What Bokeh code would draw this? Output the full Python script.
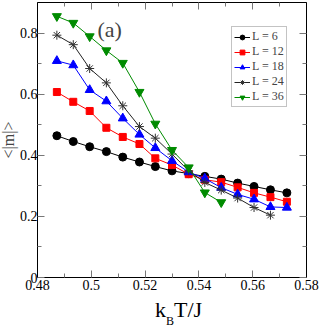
from bokeh.plotting import figure
from bokeh.models import FixedTicker, LinearAxis, Label, Legend, LegendItem, Range1d, Div
from bokeh.layouts import column
from bokeh.embed import file_html
from bokeh.resources import INLINE

T = [0.4872, 0.4933, 0.4994, 0.5056, 0.5117, 0.5179, 0.5238, 0.5300,
     0.5362, 0.5422, 0.5483, 0.5544, 0.5605, 0.5666, 0.5727]
m_L6 = [0.464, 0.445, 0.428, 0.412, 0.394, 0.378, 0.363, 0.349, 0.340,
        0.331, 0.322, 0.309, 0.298, 0.287, 0.277]
m_L12 = [0.607, 0.575, 0.545, 0.490, 0.460, 0.437, 0.390, 0.368, 0.338,
         0.320, 0.312, 0.295, 0.277, 0.263, 0.248]
m_L18 = [0.709, 0.695, 0.614, 0.577, 0.521, 0.468, 0.424, 0.382, 0.345,
         0.324, 0.294, 0.272, 0.256, 0.231, 0.229]
m_L24 = [0.793, 0.762, 0.684, 0.637, 0.562, 0.494, 0.456, 0.404, 0.349,
         0.311, 0.286, 0.260, 0.229, 0.204]
m_L36 = [0.855, 0.833, 0.789, 0.743, 0.702, 0.607, 0.503, 0.417, 0.360,
         0.278, 0.246]

series = [
    ("L = 6", m_L6, "circle", "black", "black", 8),
    ("L = 12", m_L12, "square", "#ff0000", "#ff0000", 7),
    ("L = 18", m_L18, "triangle", "#0000ff", "#0000ff", 9),
    ("L = 24", m_L24, "asterisk", "#333333", "#222222", 9),
    ("L = 36", m_L36, "inverted_triangle", "#008b00", "#008b00", 9),
]

x_ticks = [0.48, 0.50, 0.52, 0.54, 0.56, 0.58]
x_tick_labels = ["0.48", "0.5", "0.52", "0.54", "0.56", "0.58"]
x_minor = [0.49, 0.51, 0.53, 0.55, 0.57]
y_ticks = [0.0, 0.2, 0.4, 0.6, 0.8]
y_tick_labels = ["0", "0.2", "0.4", "0.6", "0.8"]
y_minor = [0.1, 0.3, 0.5, 0.7]

FONT = "Liberation Serif"

p = figure(width=335, height=297, output_backend="svg", toolbar_location=None,
           x_range=Range1d(0.48, 0.58), y_range=Range1d(0, 0.9),
           min_border_left=45, min_border_right=13, min_border_top=2,
           min_border_bottom=20, margin=(0, 0, 0, -8))
p.xgrid.visible = False
p.ygrid.visible = False
p.outline_line_color = "black"
p.outline_line_width = 1
p.background_fill_color = "white"
p.border_fill_color = "white"

xt = FixedTicker(ticks=x_ticks, minor_ticks=x_minor)
yt = FixedTicker(ticks=y_ticks, minor_ticks=y_minor)


def style(ax, labels):
    ax.axis_line_color = "black"
    ax.major_tick_in = 7
    ax.major_tick_out = 0
    ax.minor_tick_in = 4
    ax.minor_tick_out = 0
    ax.major_tick_line_color = "#777777"
    ax.minor_tick_line_color = "#777777"
    ax.major_label_text_font = FONT
    ax.major_label_text_font_size = "14px"
    ax.major_label_text_color = "black"
    ax.major_label_standoff = 1
    if not labels:
        ax.major_label_text_font_size = "0px"
        ax.major_label_standoff = 0


xa = p.xaxis[0]
xa.ticker = xt
xa.major_label_overrides = dict(zip(x_ticks, x_tick_labels))
style(xa, True)
xa.major_label_standoff = 2
ya = p.yaxis[0]
ya.ticker = yt
ya.major_label_overrides = dict(zip(y_ticks, y_tick_labels))
style(ya, True)
ya.major_label_standoff = 0
ya.axis_label = "<|m|>"
ya.axis_label_text_font = FONT
ya.axis_label_text_font_size = "16px"
ya.axis_label_text_font_style = "normal"
ya.axis_label_standoff = 0

top = LinearAxis(ticker=xt)
style(top, False)
right = LinearAxis(ticker=yt)
style(right, False)
top.major_label_overrides = {t: "" for t in x_ticks}
right.major_label_overrides = {t: "" for t in y_ticks}
p.add_layout(top, "above")
p.add_layout(right, "right")

items = []
for name, ys, marker, mcol, lcol, sz in series:
    xs = T[:len(ys)]
    r1 = p.line(xs, ys, line_color=lcol, line_width=1)
    r2 = p.scatter(xs, ys, marker=marker, size=sz, fill_color=mcol,
                   line_color=mcol, line_width=1)
    items.append(LegendItem(label=name, renderers=[r1, r2]))

legend = Legend(items=items, location=(194, 170), orientation="vertical",
                label_text_font=FONT, label_text_font_size="12px",
                label_text_line_height=1.0,
                label_height=12, label_width=10, glyph_height=12,
                glyph_width=16, label_standoff=2, spacing=0, padding=2,
                margin=0, border_line_color="#888888", border_line_width=1,
                background_fill_color="white", background_fill_alpha=1)
p.add_layout(legend, "center")

# inside-frame annotation (position relative to the frame's bottom-left)
p.add_layout(Label(x=60, y=248, x_units="screen", y_units="screen",
                   text="(a)", text_font=FONT, text_font_size="22px",
                   text_baseline="alphabetic", text_align="left"))

xlabel = Div(
    text=('<div style="font-family:\'Liberation Serif\';font-size:22px;'
          'line-height:22px;padding-top:2px;padding-left:155px;'
          'color:black;white-space:nowrap">k<span style="font-size:12px;'
          'position:relative;top:8px">B</span>T/J</div>'),
    width=327, height=30, margin=0)

layout = column(p, xlabel, spacing=0)

open("out.html", "w").write(file_html(layout, INLINE))
